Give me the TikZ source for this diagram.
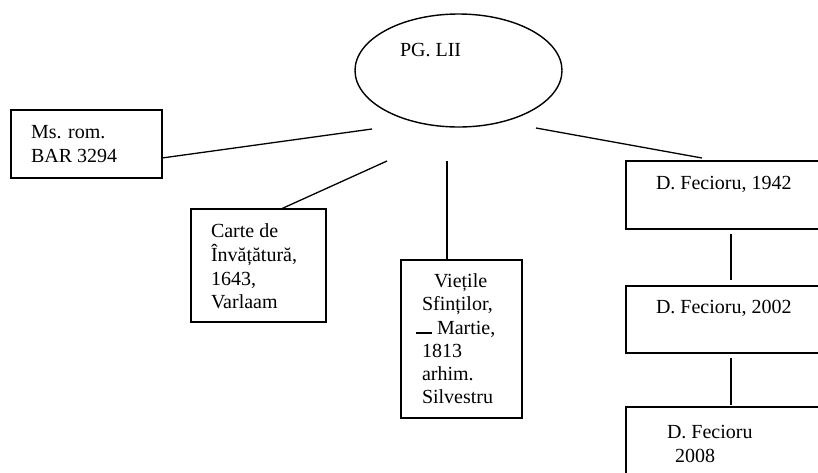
\documentclass[tikz,border=0pt]{standalone}
\usepackage{fontspec}
\setmainfont{Liberation Serif}
\usetikzlibrary{shapes.geometric,calc}
\tikzset{
  boxnode/.style={draw, line width=1.6pt, rectangle, inner sep=0pt, outer sep=0pt},
  ovalnode/.style={draw, line width=1.4pt, ellipse, inner sep=0pt, outer sep=0pt},
  txt/.style={anchor=base west, inner sep=0pt, outer sep=0pt, font=\fontsize{20}{23}\selectfont},
  link/.style={line width=1.3pt}
}
\begin{document}
\begin{tikzpicture}[x=1pt, y=-1pt]
\useasboundingbox (0,0) rectangle (818,472);
\clip (0,0) rectangle (818,472);
% ellipse
\node[ovalnode, minimum width=207pt, minimum height=113pt] (pg) at (458.5,70.5) {};
\node[txt] (pgt) at (400,56) {PG. LII};
% boxes
\node[boxnode, minimum width=151pt, minimum height=68pt] (ms) at (86.5,144) {};
\node[boxnode, minimum width=135pt, minimum height=113pt] (carte) at (258.5,265.5) {};
\node[boxnode, minimum width=121pt, minimum height=158pt] (viet) at (461.5,339) {};
\node[boxnode, minimum width=204pt, minimum height=68pt] (f1) at (728,195) {};
\node[boxnode, minimum width=204pt, minimum height=67pt] (f2) at (728,319.5) {};
\node[boxnode, minimum width=204pt, minimum height=83pt] (f3) at (728,448.5) {};
% texts
\node[txt] (ms1) at (31,138) {Ms. rom.};
\node[txt] (ms2) at (31,162) {BAR 3294};
\node[txt] (c1) at (211,237) {Carte de};
\node[txt] (c2) at (211,261) {Învățătură,};
\node[txt] (c3) at (211,285) {1643,};
\node[txt] (c4) at (211,308) {Varlaam};
\node[txt] (v1) at (434,287) {Viețile};
\node[txt] (v2) at (422,310) {Sfinților,};
\node[txt] (v3a) at (416,334) {\rule{16pt}{1.6pt}};
\node[txt] (v3) at (437,334) {Martie,};
\node[txt] (v4) at (422,357) {1813};
\node[txt] (v5) at (422,380) {arhim.};
\node[txt] (v6) at (422,403) {Silvestru};
\node[txt] (f1t) at (656,189) {D. Fecioru, 1942};
\node[txt] (f2t) at (656,313) {D. Fecioru, 2002};
\node[txt] (f3a) at (667,438) {D. Fecioru};
\node[txt] (f3b) at (675,462) {2008};
% free ends near the ellipse
\coordinate (e1) at (372,129);
\coordinate (e2) at (387,161);
\coordinate (e3) at (447,161);
\coordinate (e4) at (536,128);
% connectors
\draw[link] ($(ms.east)+(0,14)$) -- (e1);
\draw[link] ($(carte.north)+(22.5,0)$) -- (e2);
\draw[link] ($(viet.north)+(-14.5,0)$) -- (e3);
\draw[link] (e4) -- ($(f1.north west)+(76,-3)$);
\draw[link] ($(f1.south west)+(105,5)$) -- ($(f2.north west)+(105,-6)$);
\draw[link] ($(f2.south west)+(105,5)$) -- ($(f3.north west)+(105,-2)$);
\end{tikzpicture}
\end{document}
